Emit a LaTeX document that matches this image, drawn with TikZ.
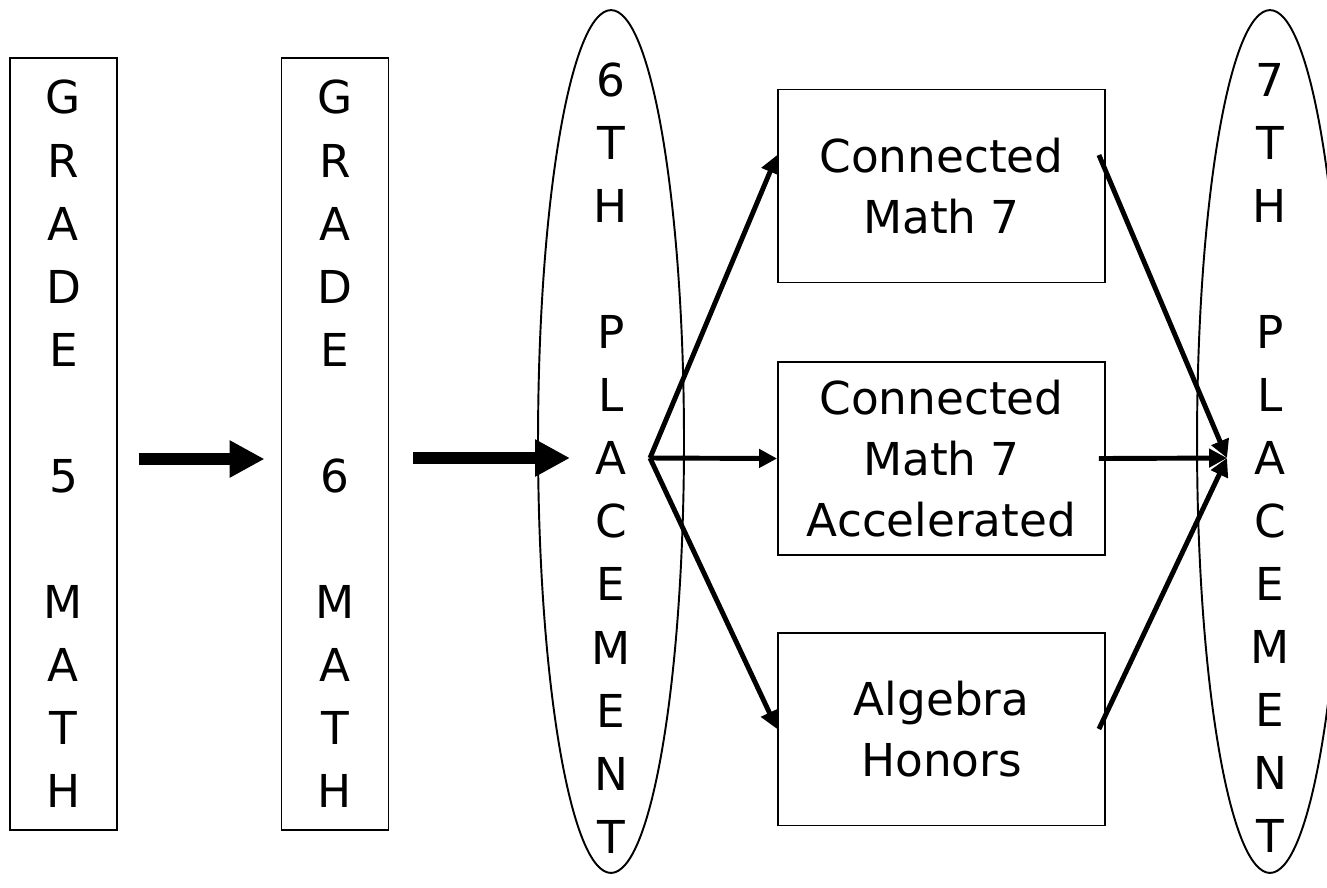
\documentclass[tikz,border=0pt]{standalone}
\usepackage{fontspec}
\setmainfont{DejaVu Sans}
\usetikzlibrary{shapes.geometric}
\usetikzlibrary{arrows.meta}

\begin{document}
\begin{tikzpicture}[x=0.02cm, y=-0.02cm,
                font=\fontsize{25.8}{35.9}\selectfont,
                colbox/.style={draw, line width=1.1pt, align=center,
                    inner sep=0pt, minimum width=2.14cm,
                    minimum height=15.44cm},
                oval/.style={draw, ellipse, line width=1.1pt,
                    inner sep=0pt, minimum width=2.92cm,
                    minimum height=17.26cm},
                coltext/.style={align=center, inner sep=0pt},
                course/.style={draw, line width=1.1pt, align=center,
                    minimum width=6.54cm, minimum height=3.86cm,
                    font=\fontsize{25.8}{34.5}\selectfont},
                bigarr/.style={line width=6.8pt,
                    -{Triangle[length=0.7cm, width=0.7cm]}},
                smallarr/.style={line width=2.8pt,
                    -{Triangle[length=0.36cm, width=0.36cm]}}]
                \useasboundingbox (0,0) rectangle (1327,887);
                % grade columns
                \node[colbox] (g5) at (63.5,444) {G\\R\\A\\D\\E\\~\\5\\~\\M\\A\\T\\H};
                \node[colbox] (g6) at (335,444) {G\\R\\A\\D\\E\\~\\6\\~\\M\\A\\T\\H};
                % placements
                \node[oval] (p6) at (611,441.5) {};
                \node[coltext] (p6txt) at (611,458) {6\\T\\H\\~\\P\\L\\A\\C\\E\\M\\E\\N\\T};
                \node[oval] (p7) at (1270,441.5) {};
                \node[coltext] (p7txt) at (1270,458) {7\\T\\H\\~\\P\\L\\A\\C\\E\\M\\E\\N\\T};
                % courses
                \node[course] (cm7) at (941.5,186) {Connected\\Math 7};
                \node[course] (cm7a) at (941.5,458.5) {Connected\\Math 7\\Accelerated};
                \node[course] (alg) at (941.5,729) {Algebra\\Honors};
                \coordinate (fork) at ([xshift=0.78cm]p6txt.center);
                \coordinate (join) at ([xshift=-0.86cm]p7txt.center);
                \draw[bigarr] ([shift={(21,15)}]g5.east) -- ([shift={(-16,15)}]g6.west);
                \draw[bigarr] ([shift={(24,14)}]g6.east) -- ([xshift=-0.82cm]p6txt.center);
                \draw[smallarr] (fork) -- ([yshift=0.62cm]cm7.west);
                \draw[smallarr] (fork) -- (cm7a.west);
                \draw[smallarr] (fork) -- (alg.west);
                \draw[smallarr] ([shift={(-7,-31)}]cm7.east) -- (join);
                \draw[smallarr] ([xshift=-0.14cm]cm7a.east) -- (join);
                \draw[smallarr] ([xshift=-0.14cm]alg.east) -- (join);
            \end{tikzpicture}
\end{document}
